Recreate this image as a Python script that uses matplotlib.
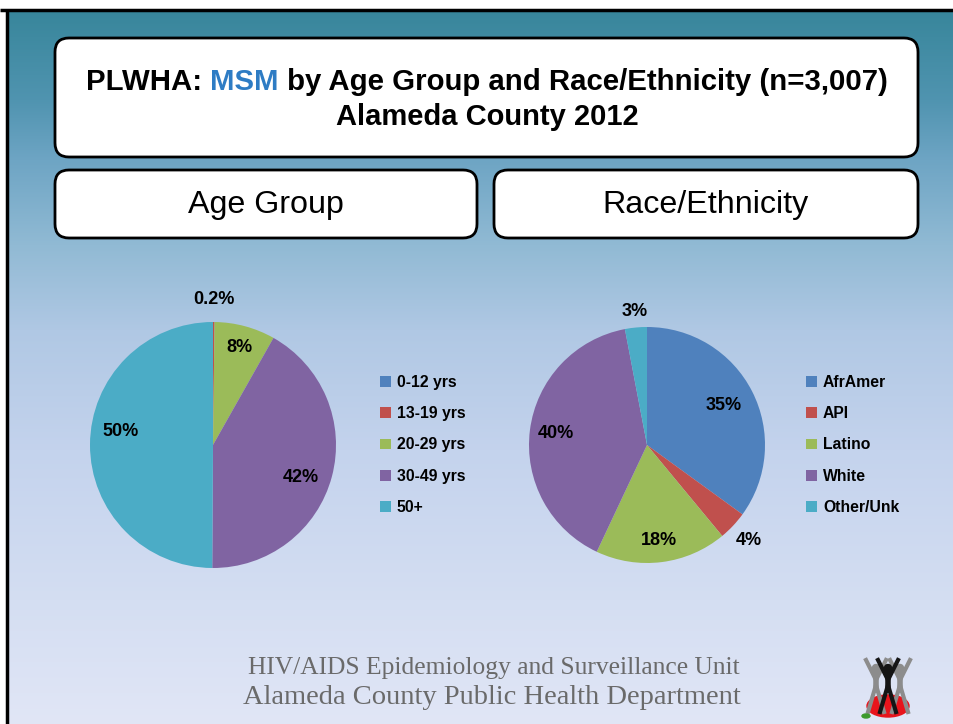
import numpy as np
import matplotlib
matplotlib.use("Agg")
import matplotlib.pyplot as plt
from matplotlib.patches import FancyBboxPatch, Ellipse

# data
age_groups = ["0-12 yrs", "13-19 yrs", "20-29 yrs", "30-49 yrs", "50+"]
age_pct = [0.0, 0.2, 8, 42, 50]
age_labels = ["", "0.2%", "8%", "42%", "50%"]

race_groups = ["AfrAmer", "API", "Latino", "White", "Other/Unk"]
race_pct = [35, 4, 18, 40, 3]
race_labels = ["35%", "4%", "18%", "40%", "3%"]

colors = ["#4f81bd", "#c0504d", "#9bbb59", "#8064a2", "#4bacc6"]

W, H = 954, 724
fig = plt.figure(figsize=(W / 100, H / 100), dpi=100)
fig.patch.set_facecolor("white")

# background axes in pixel units (y down)
bg = fig.add_axes([0, 0, 1, 1])
bg.axis("off")

# vertical gradient
stops_y = [11, 100, 160, 245, 330, 450, 600, 724]
stops_c = [(56, 134, 155), (80, 148, 176), (110, 165, 196), (145, 186, 212),
           (176, 200, 228), (196, 211, 237), (212, 222, 242), (225, 230, 246)]
ys = np.arange(11, H)
grad = np.zeros((len(ys), 1, 3))
for k in range(3):
    grad[:, 0, k] = np.interp(ys, stops_y, [c[k] for c in stops_c]) / 255
bg.imshow(grad, extent=(8, W, H, 11), aspect="auto", zorder=0)
bg.set_xlim(0, W)
bg.set_ylim(H, 0)

# slide border
bg.plot([0, W], [10, 10], color="black", lw=2.5, zorder=2, solid_capstyle="butt")
bg.plot([7, 7], [10, H], color="black", lw=2.5, zorder=2, solid_capstyle="butt")

def box(x0, y0, x1, y1):
    p = FancyBboxPatch((x0, y0), x1 - x0, y1 - y0,
                       boxstyle="round,pad=0,rounding_size=14",
                       fc="white", ec="black", lw=2, zorder=3)
    bg.add_patch(p)

box(55, 38, 918, 157)
box(55, 170, 477, 238)
box(494, 170, 918, 238)

sans = ["Liberation Sans", "DejaVu Sans"]

# title with coloured MSM
parts = [("PLWHA: ", "black"), ("MSM", "#2e7cc4"), (" by Age Group and Race/Ethnicity (n=3,007)", "black")]
fig.canvas.draw()
renderer = fig.canvas.get_renderer()
texts = []
for s, c in parts:
    t = bg.text(0, 82, s, fontsize=21.2, fontweight="bold", family=sans,
                color=c, va="center", ha="left", zorder=4)
    texts.append(t)
widths = [t.get_window_extent(renderer).width for t in texts]
x = 487 - sum(widths) / 2
for t, w in zip(texts, widths):
    t.set_x(x)
    x += w
bg.text(487, 117, "Alameda County 2012", fontsize=21, fontweight="bold",
        family=sans, ha="center", va="center", zorder=4)

bg.text(266, 205, "Age Group", fontsize=23.2, family=sans, ha="center", va="center", zorder=4)
bg.text(706, 205, "Race/Ethnicity", fontsize=23.2, family=sans, ha="center", va="center", zorder=4)

# footer
serif = ["Liberation Serif", "DejaVu Serif"]
bg.text(494, 668, "HIV/AIDS Epidemiology and Surveillance Unit", fontsize=18.4,
        family=serif, color="#6a6a6a", ha="center", va="center", zorder=4)
bg.text(492, 698, "Alameda County Public Health Department", fontsize=20.5,
        family=serif, color="#6a6a6a", ha="center", va="center", zorder=4)

# small logo
bg.add_patch(Ellipse((888, 706), 42, 22, color="#e8141c", zorder=4))
for dx, col in [(-12, "#8c8c8c"), (12, "#8c8c8c"), (0, "#151515")]:
    cx = 888 + dx
    bg.plot([cx - 10, cx, cx + 10], [660, 680, 660], color=col, lw=3, zorder=5)
    bg.plot([cx - 8, cx, cx + 8], [712, 685, 712], color=col, lw=3, zorder=5)
    bg.plot([cx, cx], [672, 690], color=col, lw=4, zorder=5)
    bg.add_patch(Ellipse((cx, 668), 7, 7, color=col, zorder=5))
bg.add_patch(Ellipse((866, 716), 8, 4, color="#3c9a2c", zorder=5))

label_font = dict(fontsize=13, fontweight="bold", family=sans)


def draw_pie(cx, cy, r, values, labels, dists, shifts, names, leg_xy):
    ax = fig.add_axes([(cx - r) / W, (H - cy - r) / H, 2 * r / W, 2 * r / H])
    wedges, _ = ax.pie(values, colors=colors, startangle=90, counterclock=False,
                       radius=1, wedgeprops=dict(linewidth=0))
    ax.set_xlim(-1, 1)
    ax.set_ylim(-1, 1)
    ax.set_aspect("auto")
    ax.axis("off")
    # label placed along the wedge bisector, nudged by a few degrees like Excel's best fit
    for w, lab, d, s in zip(wedges, labels, dists, shifts):
        if not lab:
            continue
        ang = np.deg2rad((w.theta1 + w.theta2) / 2 + s)
        ax.text(d * np.cos(ang), d * np.sin(ang), lab, ha="center", va="center",
                clip_on=False, **label_font)
    ax.legend(wedges, names, loc="center left", bbox_to_anchor=leg_xy,
              bbox_transform=fig.transFigure, frameon=False,
              prop=dict(size=11.3, weight="bold", family=sans),
              handlelength=0.68, handleheight=0.68, handletextpad=0.4,
              labelspacing=1.03, borderpad=0, borderaxespad=0)
    return ax


draw_pie(213, 445, 123, age_pct, age_labels, [0, 1.18, 0.82, 0.76, 0.76],
         [0, 0, 0, -5.5, -8], age_groups, (380 / W, 1 - 445 / H))
draw_pie(647, 445, 118, race_pct, race_labels, [0.73, 1.18, 0.82, 0.78, 1.14],
         [0, 0, 0, 0, 0], race_groups, (806 / W, 1 - 445 / H))

fig.savefig("out.png", dpi=100)
